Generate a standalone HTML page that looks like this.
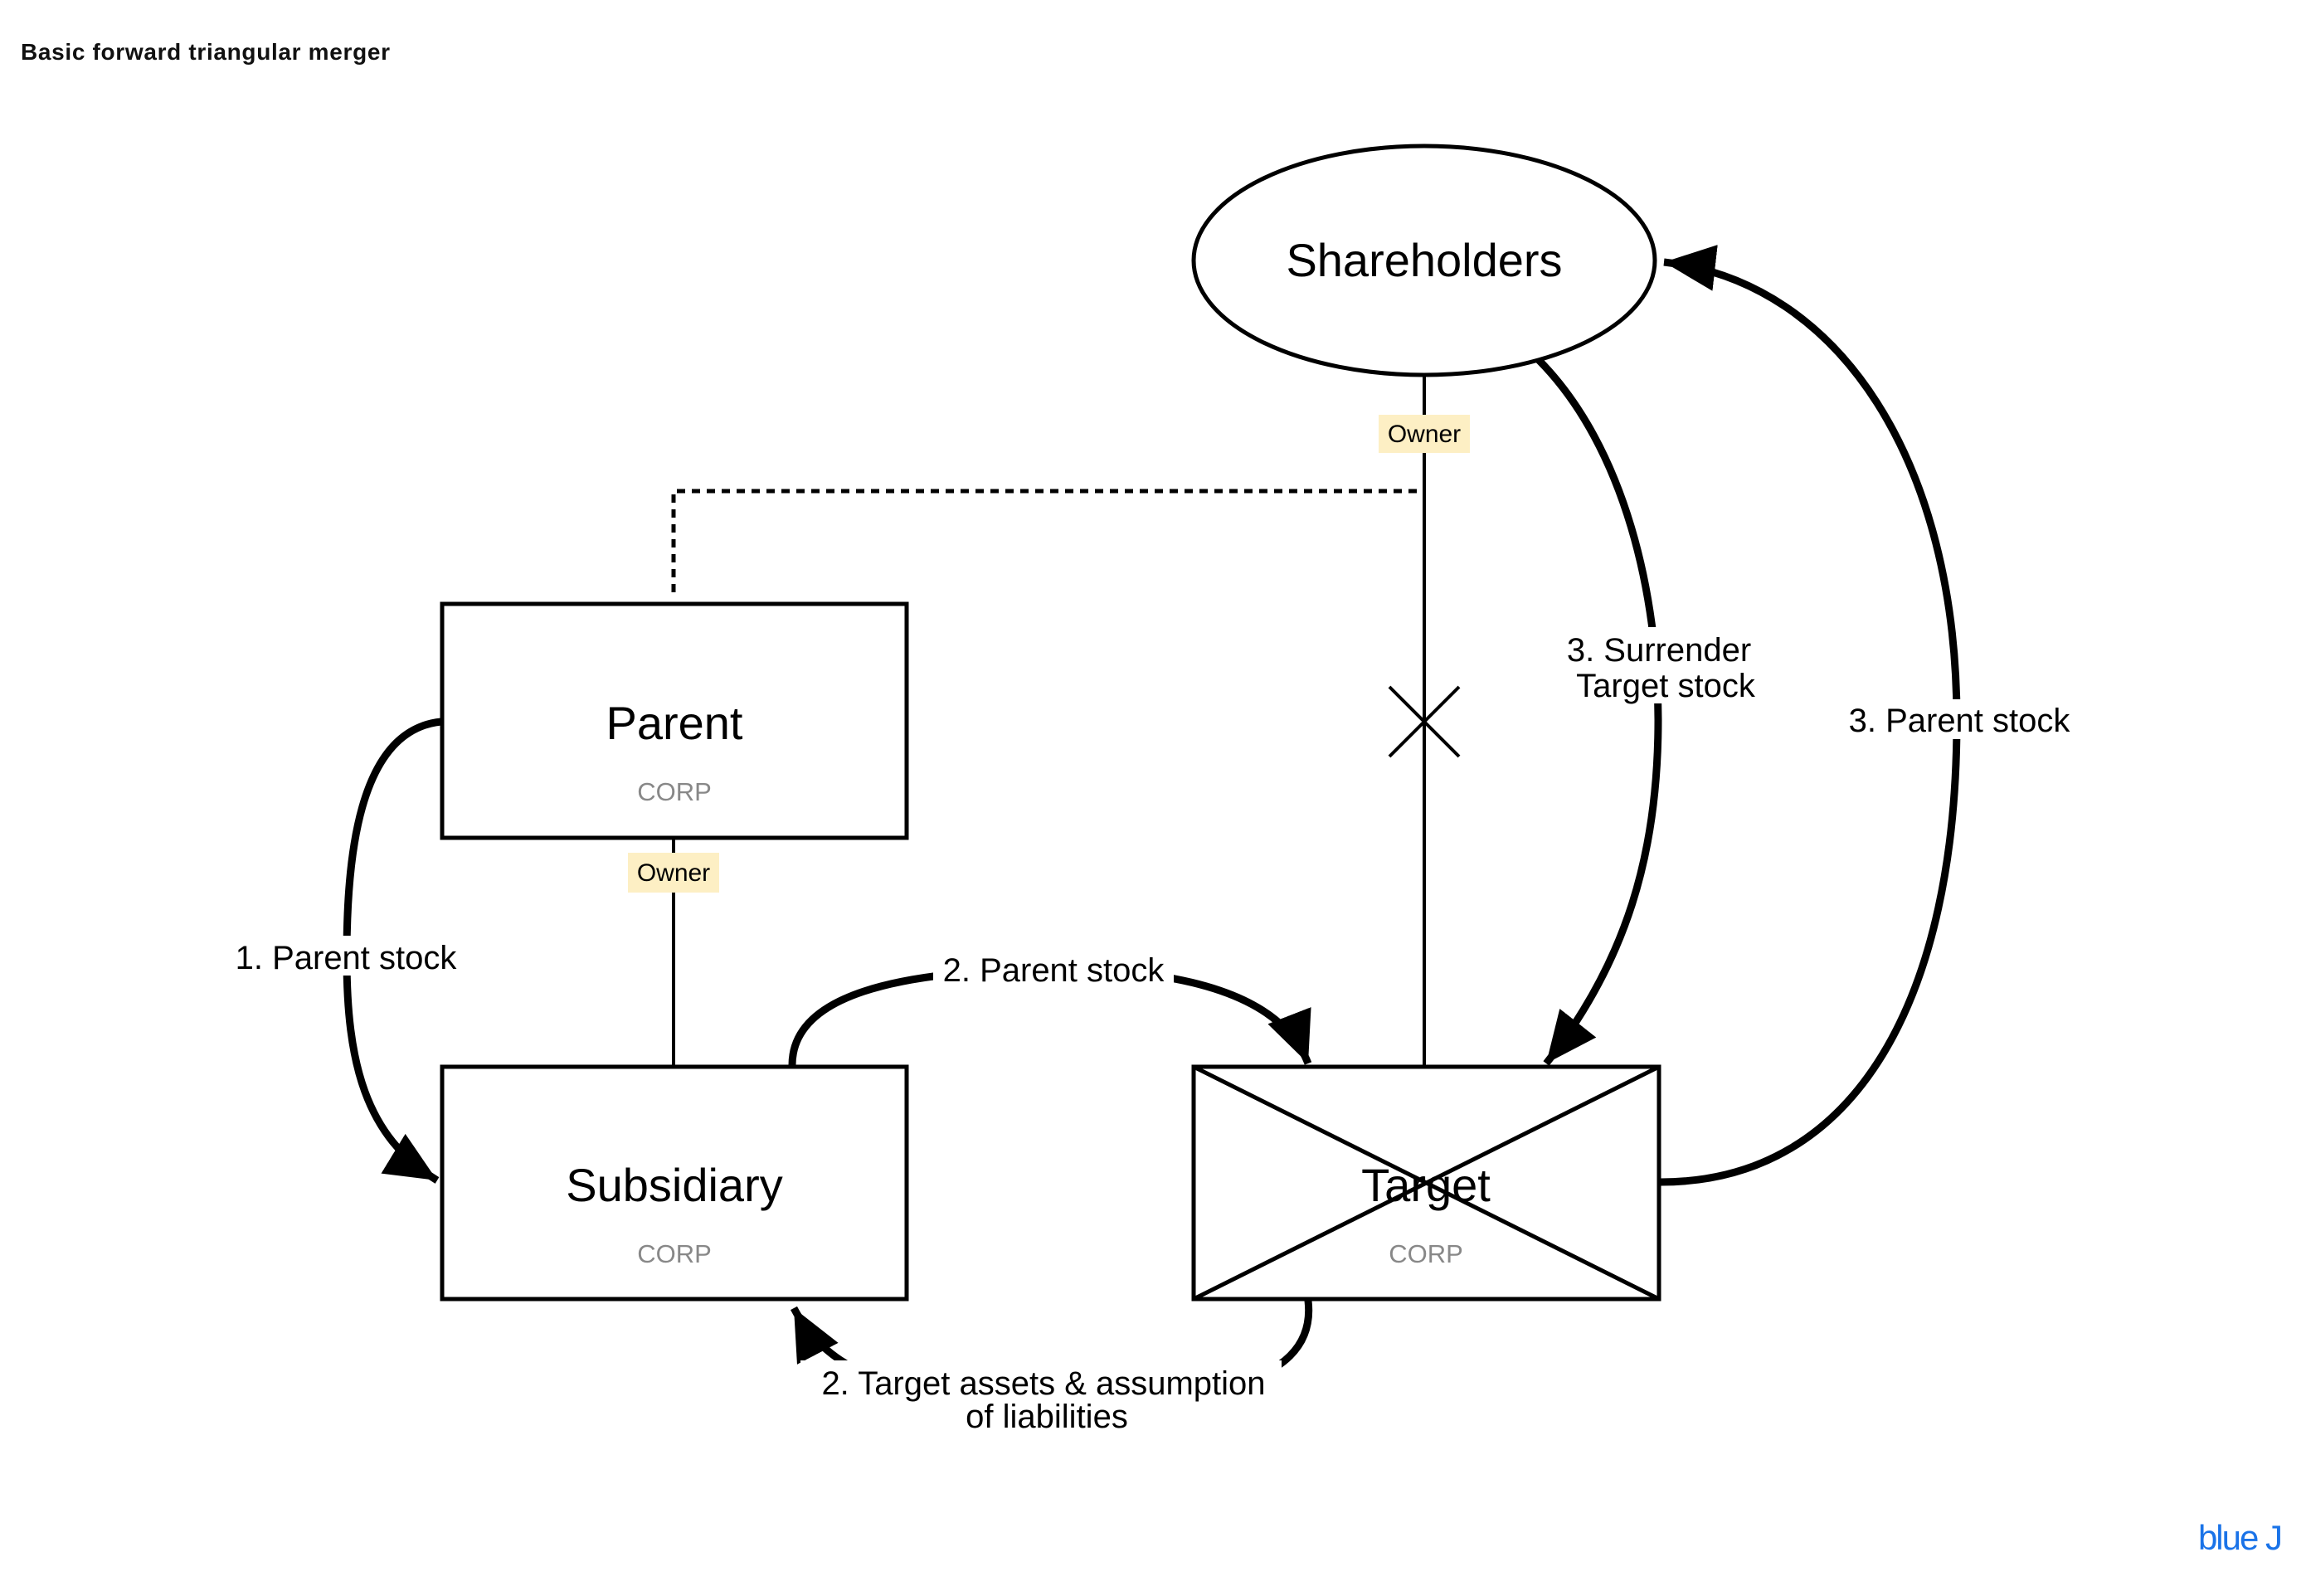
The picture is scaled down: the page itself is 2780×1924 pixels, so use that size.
<!DOCTYPE html>
<html><head><meta charset="utf-8"><style>
html,body{margin:0;padding:0;background:#fff}
svg{display:block}
text{font-family:"Liberation Sans",Arial,sans-serif}
</style></head><body>
<svg width="2780" height="1924" viewBox="0 0 2780 1924" xmlns="http://www.w3.org/2000/svg">
<defs>
<marker id="ah" markerUnits="userSpaceOnUse" markerWidth="70" markerHeight="60" refX="62" refY="28" orient="auto">
<path d="M0,0 L62,28 L0,56 Z" fill="#000"/>
</marker>
</defs>
<text x="25" y="72" font-size="28" font-weight="bold" fill="#111" textLength="445">Basic forward triangular merger</text>

<path d="M812,714 L812,592 L1717,592" fill="none" stroke="#000" stroke-width="5" stroke-dasharray="10,8"/>
<line x1="1717" y1="452" x2="1717" y2="1286" stroke="#000" stroke-width="4"/>
<line x1="1675" y1="828" x2="1759" y2="912" stroke="#000" stroke-width="4"/>
<line x1="1759" y1="828" x2="1675" y2="912" stroke="#000" stroke-width="4"/>
<line x1="812" y1="1010" x2="812" y2="1286" stroke="#000" stroke-width="4"/>

<ellipse cx="1717" cy="314" rx="278" ry="138" fill="#fff" stroke="#000" stroke-width="5"/>
<text x="1717" y="333" font-size="56" text-anchor="middle">Shareholders</text>

<rect x="533" y="728" width="560" height="282" fill="#fff" stroke="#000" stroke-width="5"/>
<text x="813" y="891" font-size="56" text-anchor="middle">Parent</text>
<text x="813" y="965" font-size="31" text-anchor="middle" fill="#888">CORP</text>

<rect x="533" y="1286" width="560" height="280" fill="#fff" stroke="#000" stroke-width="5"/>
<text x="813" y="1448" font-size="56" text-anchor="middle">Subsidiary</text>
<text x="813" y="1522" font-size="31" text-anchor="middle" fill="#888">CORP</text>

<rect x="1439" y="1286" width="561" height="280" fill="#fff" stroke="#000" stroke-width="5"/>
<line x1="1439" y1="1286" x2="2000" y2="1566" stroke="#000" stroke-width="5"/>
<line x1="2000" y1="1286" x2="1439" y2="1566" stroke="#000" stroke-width="5"/>
<text x="1719" y="1448" font-size="56" text-anchor="middle">Target</text>
<text x="1719" y="1522" font-size="31" text-anchor="middle" fill="#888">CORP</text>

<rect x="1662" y="500" width="110" height="46" fill="#fdefc4"/>
<text x="1717" y="533" font-size="30" text-anchor="middle">Owner</text>
<rect x="757" y="1028" width="110" height="48" fill="#fdefc4"/>
<text x="812" y="1062" font-size="30" text-anchor="middle">Owner</text>

<g fill="none" stroke="#000" stroke-width="9" marker-end="url(#ah)">
<path d="M532,870 C430,880 418,1040 418,1154 C418,1280 440,1370 527,1423"/>
<path d="M955,1284 C955,1200 1080,1170 1267,1168 C1430,1168 1545,1200 1577,1282"/>
<path d="M1577,1568 C1590,1680 1420,1690 1253,1690 C1060,1690 990,1640 957,1577"/>
<path d="M1855,434 C1960,540 1999,720 1999,868 C1999,1030 1960,1160 1864,1282"/>
<path d="M2002,1425 C2240,1425 2359,1200 2359,868 C2359,560 2220,340 2006,316"/>
</g>

<g font-size="40" text-anchor="middle">
<rect x="272" y="1128" width="290" height="48" fill="#fff"/>
<text x="417" y="1168">1. Parent stock</text>
<rect x="1125" y="1145" width="290" height="46" fill="#fff"/>
<text x="1270" y="1183">2. Parent stock</text>
<rect x="965" y="1640" width="580" height="90" fill="#fff"/>
<text x="1258" y="1681">2. Target assets &amp; assumption</text>
<text x="1262" y="1721">of liabilities</text>
<rect x="1870" y="756" width="255" height="92" fill="#fff"/>
<text x="2000" y="797">3. Surrender</text>
<text x="2008" y="840">Target stock</text>
<rect x="2215" y="843" width="295" height="48" fill="#fff"/>
<text x="2362" y="882">3. Parent stock</text>
</g>

<text x="2700" y="1868" font-size="42" text-anchor="middle" fill="#1a73e8" letter-spacing="-2">blue J</text>
</svg>
</body></html>
